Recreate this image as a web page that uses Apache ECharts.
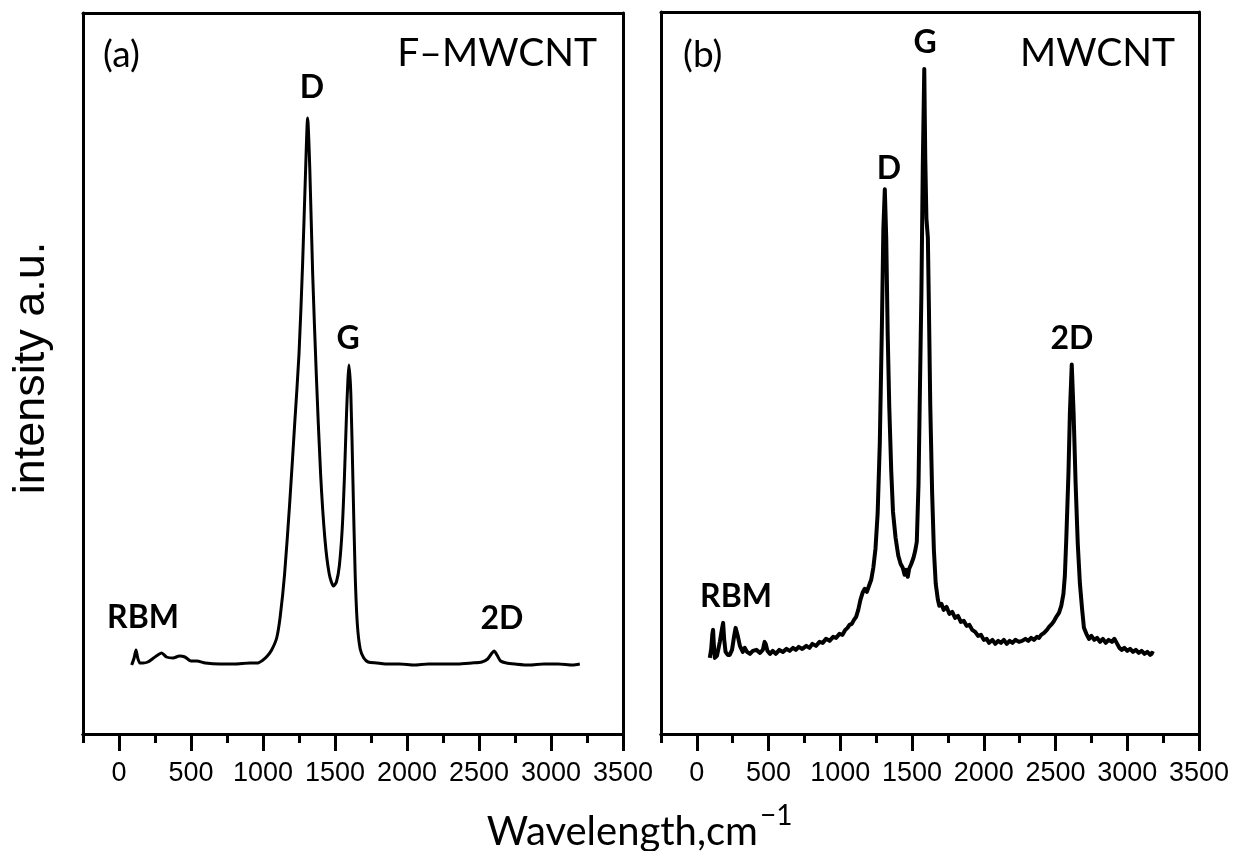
<!DOCTYPE html>
<html><head><meta charset="utf-8">
<script src="https://cdn.jsdelivr.net/npm/echarts@6/dist/echarts.min.js"></script>
<style>html,body{margin:0;padding:0;background:#fff}#c{width:1239px;height:851px}</style>
</head><body><div id="c"></div>
<script>
// ---- data (wavenumber cm-1, intensity a.u.) ----
const spectrumA = [[88,69],[105,76],[118,84],[130,76],[145,71],[167,71],[200,72],[240,76],[270,79],[296,81],[330,77],[375,76],[420,78],[458,77],[500,73],[540,73],[600,71],[700,70],[800,70],[910,71],[960,71],[1000,74],[1030,78],[1060,84],[1095,96],[1120,118],[1150,160],[1185,230],[1220,310],[1250,380],[1275,470],[1295,560],[1310,616],[1325,565],[1345,460],[1370,360],[1400,260],[1430,195],[1460,160],[1490,148],[1510,152],[1530,168],[1550,205],[1565,255],[1580,320],[1590,355],[1597,369],[1610,340],[1625,250],[1640,160],[1655,110],[1675,85],[1700,76],[1730,72],[1790,71],[1850,70],[1950,70],[2050,69],[2150,70],[2250,70],[2350,70],[2450,71],[2520,72],[2560,75],[2585,80],[2605,83],[2625,79],[2650,73],[2690,71],[2750,70],[2850,69],[2950,70],[3050,70],[3150,69],[3200,70]];
const spectrumB = [[90,76],[100,85],[108,100],[113,104],[118,90],[125,76],[140,78],[160,92],[175,105],[183,111],[190,95],[200,82],[215,79],[229,79],[245,84],[260,98],[270,106],[276,107],[285,98],[300,88],[320,82],[334,86],[350,82],[370,80],[390,83],[415,84],[440,81],[460,84],[472,92],[480,90],[492,83],[510,80],[529,83],[550,80],[575,84],[600,82],[625,85],[647,83],[670,86],[690,84],[710,87],[735,85],[763,88],[785,86],[805,90],[830,88],[855,92],[877,91],[900,95],[925,93],[950,97],[970,96],[994,100],[1015,99],[1035,104],[1050,106],[1064,109],[1080,110],[1095,114],[1110,117],[1125,124],[1140,134],[1155,141],[1170,145],[1185,142],[1200,148],[1215,154],[1230,166],[1245,185],[1260,220],[1275,290],[1290,410],[1300,505],[1310,544],[1320,495],[1330,400],[1341,327],[1355,262],[1367,222],[1385,196],[1404,178],[1420,170],[1435,166],[1448,159],[1460,164],[1470,157],[1480,165],[1495,170],[1510,176],[1522,183],[1533,192],[1545,250],[1553,327],[1565,440],[1575,570],[1585,664],[1592,575],[1600,515],[1610,496],[1617,430],[1627,327],[1640,240],[1652,184],[1665,150],[1680,134],[1690,128],[1705,130],[1720,124],[1740,127],[1760,120],[1780,122],[1800,116],[1820,118],[1840,112],[1860,113],[1880,108],[1900,109],[1919,104],[1940,102],[1960,98],[1980,99],[2000,94],[2020,95],[2037,91],[2060,94],[2080,90],[2100,93],[2120,91],[2140,94],[2160,90],[2180,93],[2200,91],[2220,94],[2245,92],[2267,93],[2290,95],[2310,93],[2330,96],[2350,94],[2370,97],[2385,96],[2400,99],[2420,101],[2440,104],[2455,107],[2475,110],[2490,113],[2510,118],[2524,121],[2540,128],[2555,140],[2565,158],[2575,195],[2590,260],[2600,320],[2613,369],[2626,320],[2640,250],[2655,190],[2670,150],[2685,125],[2698,106],[2715,100],[2733,95],[2750,98],[2770,94],[2790,96],[2810,92],[2830,95],[2850,91],[2870,94],[2893,92],[2910,95],[2930,90],[2945,86],[2962,84],[2980,86],[3000,83],[3020,85],[3040,82],[3060,84],[3080,81],[3100,83],[3120,80],[3140,82],[3160,79],[3171,81],[3185,80]];
const majorTicks = [0,500,1000,1500,2000,2500,3000,3500];
const tickLabels = ['0','500','1000','1500','2000','2500','3000','3500'];
const minorTicks = [-250,250,750,1250,1750,2250,2750,3250];
const panelTags = ['(a)','(b)'];
const sampleNames = ['F\u2013MWCNT','MWCNT'];
const peakNamesA = ['D','G','RBM','2D'];
const peakNamesB = ['G','D','RBM','2D'];
const xTitle = 'Wavelength,cm';
const xTitleSup = '\u22121';
const yTitle = 'intensity a.u.';

const BLACK = '#000';
const grids = [
  {left:83, top:13, width:540, height:721},
  {left:661, top:12, width:538, height:722}
];
const xAxes = [], yAxes = [];
grids.forEach((g, gi) => {
  xAxes.push({gridIndex:gi, type:'value', min:-250, max:3500, position:'bottom',
    axisLine:{onZero:false, lineStyle:{color:BLACK, width:3}},
    axisTick:{customValues:majorTicks, length:17, lineStyle:{color:BLACK, width:3}},
    axisLabel:{customValues:majorTicks, formatter:v => tickLabels[majorTicks.indexOf(v)],
      fontFamily:'Liberation Sans, Arial', fontSize:27, color:BLACK, margin:26},
    splitLine:{show:false}});
  xAxes.push({gridIndex:gi, type:'value', min:-250, max:3500, position:'bottom',
    axisLine:{onZero:false, lineStyle:{color:BLACK, width:3}},
    axisTick:{customValues:minorTicks, length:9, lineStyle:{color:BLACK, width:3}},
    axisLabel:{show:false}, splitLine:{show:false}});
  xAxes.push({gridIndex:gi, type:'value', min:-250, max:3500, position:'top',
    axisLine:{onZero:false, lineStyle:{color:BLACK, width:3}},
    axisTick:{show:false}, axisLabel:{show:false}, splitLine:{show:false}});
  ['left','right'].forEach(p => yAxes.push({gridIndex:gi, type:'value', min:0, max:721, position:p,
    axisLine:{show:true, onZero:false, lineStyle:{color:BLACK, width:3}},
    axisTick:{show:false}, axisLabel:{show:false}, splitLine:{show:false}}));
});

const tagFont = '37px Lato, sans-serif';
const nameFont = '39px Lato, sans-serif';
const peakFont = 'bold 32px Lato, sans-serif';
function txt(text, x, y, font, align) {
  return {type:'text', x:x, y:y, z:10, style:{text:text, font:font, fill:BLACK,
    textAlign:align || 'center', textVerticalAlign:'middle'}};
}
const graphics = [
  txt(panelTags[0], 103, 55, tagFont, 'left'),
  txt(sampleNames[0], 597, 53, nameFont, 'right'),
  txt(peakNamesA[0], 312, 88, peakFont),
  txt(peakNamesA[1], 348, 339, peakFont),
  txt(peakNamesA[2], 143, 618, peakFont),
  txt(peakNamesA[3], 502, 619, peakFont),
  txt(panelTags[1], 683, 55, tagFont, 'left'),
  txt(sampleNames[1], 1175, 53, nameFont, 'right'),
  txt(peakNamesB[0], 925, 43, peakFont),
  txt(peakNamesB[1], 889, 169, peakFont),
  txt(peakNamesB[2], 736, 597, peakFont),
  txt(peakNamesB[3], 1072, 339, peakFont),
  txt(xTitle, 758, 832, '40px Lato, sans-serif', 'right'),
  txt(xTitleSup, 760, 816, '28px Lato, sans-serif', 'left'),
  {type:'text', x:32, y:368, rotation:Math.PI/2, z:10,
    style:{text:yTitle, font:'45px "Liberation Sans", Arial, sans-serif', fill:BLACK,
      textAlign:'center', textVerticalAlign:'middle'}}
];

const chart = echarts.init(document.getElementById('c'), null, {renderer:'canvas'});
chart.setOption({
  backgroundColor:'#fff',
  animation:false,
  grid: grids,
  xAxis: xAxes,
  yAxis: yAxes,
  series: [
    {type:'line', xAxisIndex:0, yAxisIndex:0, data:spectrumA, symbol:'none', smooth:0.25,
      lineStyle:{color:BLACK, width:3}},
    {type:'line', xAxisIndex:3, yAxisIndex:2, data:spectrumB, symbol:'none', smooth:false,
      lineStyle:{color:BLACK, width:4, join:'round'}}
  ],
  graphic: graphics
});
</script></body></html>
